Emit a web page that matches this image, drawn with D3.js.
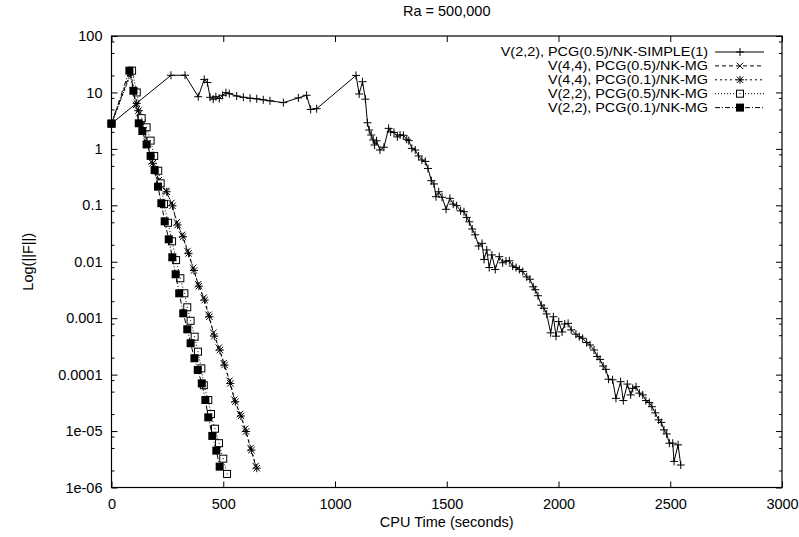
<!DOCTYPE html>
<html><head><meta charset="utf-8">
<script src="https://cdn.jsdelivr.net/npm/d3@7"></script>
<style>
body{margin:0;background:#fff;}
svg{display:block;font-family:"Liberation Sans",Arial,sans-serif;}
</style></head><body>
<svg id="c" width="799" height="537"></svg>
<script>
// ---- data ----
const titleText = "Ra = 500,000";
const xLabel = "CPU Time (seconds)";
const yLabel = "Log(||F||)";
const xTicks = [0,500,1000,1500,2000,2500,3000];
const yTicks = [100,10,1,0.1,0.01,0.001,0.0001,1e-5,1e-6];
const yTickLabels = ["100","10","1","0.1","0.01","0.001","0.0001","1e-05","1e-06"];
const seriesNames = ["V(2,2), PCG(0.5)/NK-SIMPLE(1)","V(4,4), PCG(0.5)/NK-MG","V(4,4), PCG(0.1)/NK-MG","V(2,2), PCG(0.5)/NK-MG","V(2,2), PCG(0.1)/NK-MG"];

const simpleX = [0,266,329,388,415,429,441,455,467,482,497,512,527,560,590,620,650,679,709,769,836,873,891,918,1094,1108,1123,1136,1145,1153,1162,1171,1177,1186,1201,1219,1240,1249,1264,1279,1291,1306,1321,1330,1344,1359,1374,1389,1404,1416,1431,1443,1452,1464,1479,1497,1514,1529,1544,1562,1577,1589,1601,1614,1627,1643,1658,1667,1679,1690,1702,1717,1735,1750,1765,1780,1795,1810,1825,1840,1858,1872,1887,1896,1908,1923,1935,1947,1965,1977,1989,2001,2016,2028,2043,2057,2078,2093,2108,2126,2141,2159,2173,2186,2200,2212,2224,2242,2257,2278,2290,2308,2323,2332,2347,2362,2377,2391,2406,2418,2433,2448,2460,2472,2484,2496,2511,2517,2535,2547];
const simpleY = [2.8,20.1,20.2,8.4,17,15,8.2,7.6,8.4,7.8,8.9,9.9,9.5,8.65,8.2,7.9,7.7,7.4,7.1,6.6,8.0,8.9,5.0,5.15,20,9.4,15.5,7.6,2.9,2.16,1.76,1.44,1.17,1.39,0.955,1.07,2.31,2.0,1.96,1.63,1.77,1.74,1.48,1.4,1.02,0.955,0.75,0.635,0.6,0.45,0.273,0.239,0.142,0.174,0.139,0.085,0.133,0.105,0.0985,0.080,0.077,0.061,0.051,0.038,0.030,0.019,0.0212,0.011,0.0162,0.0079,0.0132,0.0073,0.0123,0.0096,0.0103,0.0104,0.0084,0.0079,0.0073,0.0067,0.0054,0.0049,0.0036,0.0032,0.0025,0.0017,0.0015,0.00119,0.00055,0.00106,0.00048,0.00087,0.00057,0.00079,0.00081,0.00062,0.00052,0.00047,0.00044,0.00037,0.000335,0.000273,0.00021,0.000186,0.000142,0.000124,8.3e-5,8.1e-5,3.8e-5,7.5e-5,3.47e-5,6.8e-5,4.37e-5,5.7e-5,6.1e-5,4.7e-5,4.37e-5,3.47e-5,3.2e-5,2.7e-5,2.1e-5,1.58e-5,1.42e-5,1.05e-5,8.9e-6,6.1e-6,6.1e-6,2.9e-6,5.7e-6,2.5e-6];

const mg44p5X = [0,84,110,125,140,158,180,212,243,268,292,316,340,365,388,412,434,456,480,502,528,550,575,598,622,645];
const mg44p5Y = [2.8,22.5,6.0,4.3,2.9,1.35,0.6,0.28,0.18,0.11,0.05,0.03,0.0155,0.0078,0.004,0.0023,0.00115,0.00055,0.0003,0.00016,7.8e-5,3.6e-5,2.0e-5,1.1e-5,5.0e-6,2.4e-6];

const mg44p1X = [0,86,113,120,135,160,184,217,247,273,296,320,345,369,391,417,438,460,485,506,532,554,579,602,626,650];
const mg44p1Y = [2.8,21.8,6.4,4.75,3.25,1.26,0.555,0.245,0.174,0.098,0.0448,0.0278,0.0141,0.007,0.0037,0.0021,0.00106,0.00048,0.000273,0.000148,7e-5,3.3e-5,1.85e-5,9.8e-6,4.6e-6,2.2e-6];

const mg22p5X = [0,92,113,135,157,175,191,209,220,235,253,271,289,308,326,339,354,372,387,402,413,433,445,463,481,500,517];
const mg22p5Y = [2.8,24.3,10,3.5,2.41,1.4,0.75,0.41,0.245,0.105,0.049,0.023,0.0107,0.0051,0.00276,0.00156,0.0009,0.00047,0.000255,0.000129,6.5e-5,3.55e-5,2.0e-5,1.1e-5,6.1e-6,3.24e-6,1.74e-6];

const mg22p1X = [0,80,98,122,138,157,175,193,208,223,238,256,272,287,303,321,339,354,371,386,404,420,433,451,469,484];
const mg22p1Y = [2.8,24.3,10.7,2.84,2.07,1.2,0.75,0.42,0.214,0.109,0.052,0.025,0.012,0.006,0.00276,0.00122,0.000635,0.00036,0.000195,0.000121,7.0e-5,3.55e-5,1.75e-5,8.2e-6,4.5e-6,2.34e-6];

// ---- layout ----
const L=111.5, R=782, T=36, B=487.5;
const svg = d3.select("#c");
const x = d3.scaleLinear().domain([0,3000]).range([L,R]);
const y = d3.scaleLog().domain([1e-6,100]).range([B,T]);
const FS = "14.5px";

// minor ticks (2,5,8 per decade)
const minorY = [];
yTicks.forEach(v=>{ if(v<100){ [2,5,8].forEach(m=>minorY.push(v*m)); } });

function styleAxis(g){
  g.select(".domain").remove();
  g.selectAll("line").attr("stroke","#000").attr("stroke-width",1);
  g.selectAll("text").attr("font-size",FS).attr("fill","#000");
}
// left
svg.append("g").attr("transform",`translate(${L},0)`)
  .call(d3.axisLeft(y).tickValues(yTicks).tickSize(-6).tickPadding(9).tickFormat((d,i)=>yTickLabels[i]))
  .call(styleAxis);
svg.append("g").attr("transform",`translate(${L},0)`)
  .call(d3.axisLeft(y).tickValues(minorY).tickSize(-3).tickFormat(""))
  .call(styleAxis);
// right
svg.append("g").attr("transform",`translate(${R},0)`)
  .call(d3.axisRight(y).tickValues(yTicks).tickSize(-6).tickFormat(""))
  .call(styleAxis);
svg.append("g").attr("transform",`translate(${R},0)`)
  .call(d3.axisRight(y).tickValues(minorY).tickSize(-3).tickFormat(""))
  .call(styleAxis);
// bottom
svg.append("g").attr("transform",`translate(0,${B})`)
  .call(d3.axisBottom(x).tickValues(xTicks).tickSize(-6).tickPadding(11).tickFormat(d3.format("d")))
  .call(styleAxis);
// top
svg.append("g").attr("transform",`translate(0,${T})`)
  .call(d3.axisTop(x).tickValues(xTicks).tickSize(-6).tickFormat(""))
  .call(styleAxis);

// border
svg.append("rect").attr("x",L).attr("y",T).attr("width",R-L).attr("height",B-T)
  .attr("fill","none").attr("stroke","#000").attr("stroke-width",1.2);

// titles
svg.append("text").attr("x",(L+R)/2).attr("y",16).attr("text-anchor","middle").attr("font-size",FS).text(titleText);
svg.append("text").attr("x",(L+R)/2).attr("y",527).attr("text-anchor","middle").attr("font-size",FS).text(xLabel);
svg.append("text").attr("transform",`translate(33,${(T+B)/2}) rotate(-90)`).attr("text-anchor","middle").attr("font-size",FS).text(yLabel);

// markers
const mk = {
  plus: [[-4,0,4,0],[0,-4,0,4]],
  cross: [[-3.2,-3.2,3.2,3.2],[-3.2,3.2,3.2,-3.2]],
  star: [[-4,0,4,0],[0,-4,0,4],[-3.2,-3.2,3.2,3.2],[-3.2,3.2,3.2,-3.2]]
};
function drawMarker(g, type, px, py){
  if(type==="osq"){
    g.append("rect").attr("x",px-3.5).attr("y",py-3.5).attr("width",7).attr("height",7)
      .attr("fill","#fff").attr("stroke","#000").attr("stroke-width",1);
    g.append("rect").attr("x",px-0.5).attr("y",py-0.5).attr("width",1).attr("height",1).attr("fill","#000");
  } else if(type==="fsq"){
    g.append("rect").attr("x",px-4).attr("y",py-4).attr("width",8).attr("height",8).attr("fill","#000");
  } else {
    const d = mk[type].map(s=>`M${px+s[0]},${py+s[1]}L${px+s[2]},${py+s[3]}`).join("");
    g.append("path").attr("d",d).attr("stroke","#000").attr("stroke-width",1).attr("fill","none");
  }
}

const series = [
  {xs:simpleX, ys:simpleY, dash:null, marker:"plus"},
  {xs:mg44p5X, ys:mg44p5Y, dash:"4,3", marker:"cross"},
  {xs:mg44p1X, ys:mg44p1Y, dash:"2,3", marker:"star"},
  {xs:mg22p5X, ys:mg22p5Y, dash:"1,2", marker:"osq"},
  {xs:mg22p1X, ys:mg22p1Y, dash:"5,2,1,2", marker:"fsq"}
];
const line = d3.line().x(d=>x(d[0])).y(d=>y(d[1]));
const plot = svg.append("g");
series.forEach((s,i)=>{
  const pts = s.xs.map((v,j)=>[v,s.ys[j]]);
  const g = plot.append("g");
  g.append("path").attr("d",line(pts)).attr("fill","none").attr("stroke","#000")
    .attr("stroke-width",1).attr("stroke-dasharray",s.dash);
  pts.forEach(p=>drawMarker(g,s.marker,x(p[0]),y(p[1])));
});

// legend (smaller font, stretched horizontally so rows don't overlap)
const lg = svg.append("g");
const LFS = 12;
const stretch = 1.2;
seriesNames.forEach((name,i)=>{
  const yy = 52 + i*13.9;
  const t = lg.append("text").attr("x",708).attr("y",yy).attr("dy","0.36em").attr("text-anchor","end")
    .attr("font-size",LFS+"px").text(name);
  const w = t.node().getComputedTextLength();
  t.attr("textLength",w*stretch).attr("lengthAdjust","spacingAndGlyphs");
  lg.append("line").attr("x1",715).attr("x2",764).attr("y1",yy).attr("y2",yy)
    .attr("stroke","#000").attr("stroke-width",1).attr("stroke-dasharray",series[i].dash);
  drawMarker(lg, series[i].marker, 740, yy);
});
</script>
</body></html>
